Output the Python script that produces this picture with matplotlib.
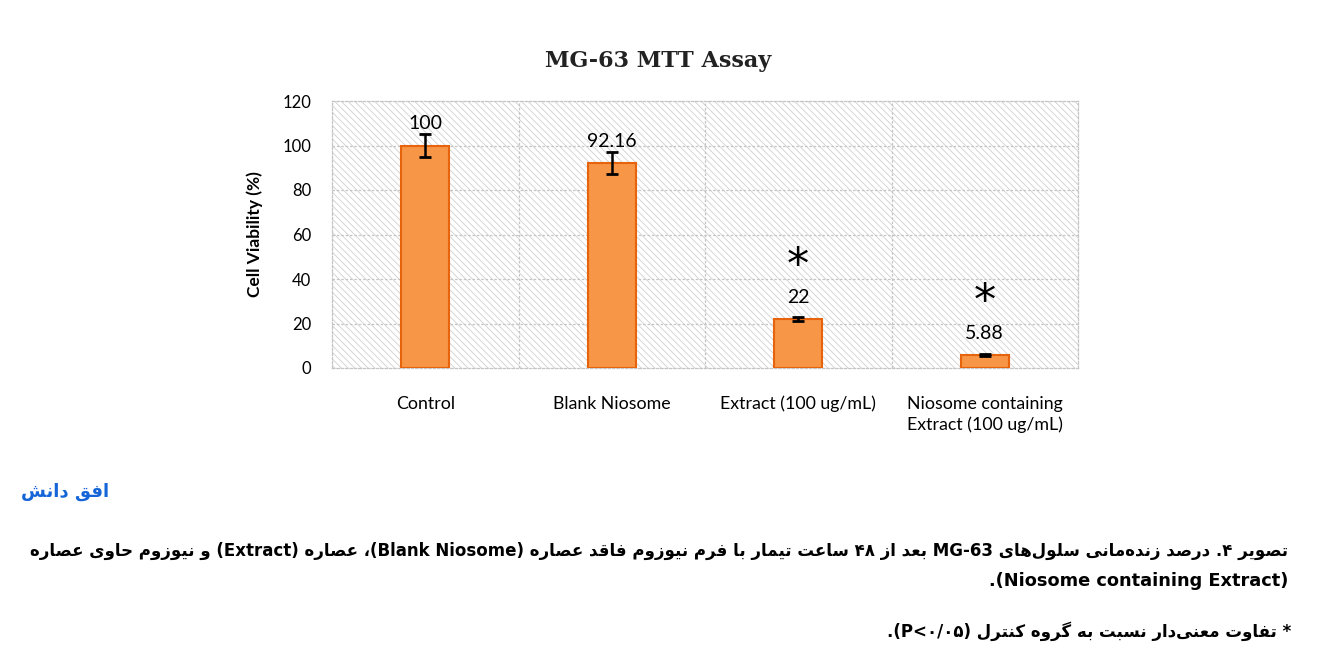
import matplotlib
matplotlib.use('Agg')
import matplotlib.pyplot as plt
from matplotlib.patches import Rectangle

# ---- data ----
groups = ['Control', 'Blank Niosome', 'Extract (100 ug/mL)',
          'Niosome containing\nExtract (100 ug/mL)']
viability = [100, 92.16, 22, 5.88]
errors = [5.2, 4.8, 1.0, 0.6]
value_labels = ['100', '92.16', '22', '5.88']
significant = [False, False, True, True]
yticks = [0, 20, 40, 60, 80, 100, 120]

title = 'MG-63 MTT Assay'
ylabel = 'Cell Viability (%)'
caption1 = ('تصویر ۴. درصد زنده\u200cمانی سلول\u200cهای MG-63 بعد از ۴۸ ساعت تیمار با فرم '
            'نیوزوم فاقد عصاره (Blank Niosome)، عصاره (Extract) و نیوزوم حاوی عصاره')
caption2 = '(Niosome containing Extract).'
caption3 = '* تفاوت معنی\u200cدار نسبت به گروه کنترل (P<۰/۰۵).'
logo = 'افق دانش'

# ---- minimal Persian shaping + bidi (matplotlib does neither) ----
# isolated, final, initial, medial
DUAL = {
    'ب': 'ﺏﺐﺑﺒ', 'پ': 'ﭖﭗﭘﭙ', 'ت': 'ﺕﺖﺗﺘ', 'ث': 'ﺙﺚﺛﺜ', 'ج': 'ﺝﺞﺟﺠ',
    'چ': 'ﭺﭻﭼﭽ', 'ح': 'ﺡﺢﺣﺤ', 'خ': 'ﺥﺦﺧﺨ', 'س': 'ﺱﺲﺳﺴ', 'ش': 'ﺵﺶﺷﺸ',
    'ص': 'ﺹﺺﺻﺼ', 'ض': 'ﺽﺾﺿﻀ', 'ط': 'ﻁﻂﻃﻄ', 'ظ': 'ﻅﻆﻇﻈ', 'ع': 'ﻉﻊﻋﻌ',
    'غ': 'ﻍﻎﻏﻐ', 'ف': 'ﻑﻒﻓﻔ', 'ق': 'ﻕﻖﻗﻘ', 'ک': 'ﮎﮏﮐﮑ', 'گ': 'ﮒﮓﮔﮕ',
    'ل': 'ﻝﻞﻟﻠ', 'م': 'ﻡﻢﻣﻤ', 'ن': 'ﻥﻦﻧﻨ', 'ه': 'ﻩﻪﻫﻬ', 'ی': 'ﯼﯽﯾﯿ',
}
RIGHT = {'ا': 'ﺍﺎ', 'آ': 'ﺁﺂ', 'د': 'ﺩﺪ', 'ذ': 'ﺫﺬ', 'ر': 'ﺭﺮ',
         'ز': 'ﺯﺰ', 'ژ': 'ﮊﮋ', 'و': 'ﻭﻮ'}


def shape(text):
    out = []
    for i, ch in enumerate(text):
        if ch not in DUAL and ch not in RIGHT:
            out.append(ch)
            continue
        prev = text[i - 1] if i > 0 else ''
        nxt = text[i + 1] if i + 1 < len(text) else ''
        jp = prev in DUAL
        jn = ch in DUAL and (nxt in DUAL or nxt in RIGHT)
        f = DUAL.get(ch) or RIGHT.get(ch)
        if jp and jn:
            out.append(f[3])
        elif jp:
            out.append(f[1])
        elif jn:
            out.append(f[2])
        else:
            out.append(f[0])
    return ''.join(out).replace('\u200c', '')


def ctype(ch):
    if (ch.isascii() and ch.isalnum()) or '\u06f0' <= ch <= '\u06f9':
        return 'L'
    if ord(ch) >= 0x0600:
        return 'R'
    return 'N'


def rtl(text):
    s = shape(text)
    t = [ctype(c) for c in s]
    res = []
    for i, c in enumerate(t):
        if c != 'N':
            res.append(c)
            continue
        p = next((t[j] for j in range(i - 1, -1, -1) if t[j] != 'N'), 'R')
        n = next((t[j] for j in range(i + 1, len(t)) if t[j] != 'N'), 'R')
        res.append('L' if p == 'L' and n == 'L' else 'R')
    runs = []
    for ch, c in zip(s, res):
        if runs and runs[-1][0] == c:
            runs[-1][1].append(ch)
        else:
            runs.append((c, [ch]))
    mirror = {'(': ')', ')': '('}
    out = []
    for c, chars in reversed(runs):
        if c == 'R':
            out.append(''.join(mirror.get(x, x) for x in reversed(chars)))
        else:
            out.append(''.join(chars))
    return ''.join(out)


# ---- figure ----
W, H = 1331, 663
fig = plt.figure(figsize=(W / 100, H / 100), dpi=100)
ax = fig.add_axes([332 / W, 1 - 368 / H, 746 / W, 267 / H])

plt.rcParams['hatch.linewidth'] = 0.6
ax.add_patch(Rectangle((0, 0), 1, 1, transform=ax.transAxes, facecolor='white',
                       edgecolor='#cfcfcf', hatch='\\\\\\\\\\', linewidth=0, zorder=0))

x = list(range(len(groups)))
ax.bar(x, viability, width=0.26, color='#F79646', edgecolor='#E8640C',
       linewidth=1.5, zorder=3)
ax.errorbar(x, viability, yerr=errors, fmt='none', ecolor='black',
            elinewidth=1.8, capsize=4.5, capthick=2, zorder=4)

for xi, v, lab, sig in zip(x, viability, value_labels, significant):
    ax.text(xi, v + 9.7, lab, ha='center', va='center', fontsize=14,
            family='Lato', zorder=5)
    if sig:
        ax.text(xi, v + 23.5, '*', ha='center', va='center', fontsize=32,
                family='DejaVu Sans', zorder=5)

ax.set_xlim(-0.5, 3.5)
ax.set_ylim(0, 120)
ax.set_yticks(yticks)
ax.set_xticks(x)
ax.set_xticklabels(groups, family='Lato', fontsize=12.8, linespacing=1.35)
ax.set_yticklabels([str(v) for v in yticks], family='Lato', fontsize=12)
ax.tick_params(length=0, pad=15)
ax.tick_params(axis='x', pad=20)

for yv in yticks[1:-1]:
    ax.axhline(yv, color='#c4c4c4', linestyle=(0, (2, 1.5)), linewidth=0.9, zorder=1)
for xv in [0.5, 1.5, 2.5]:
    ax.axvline(xv, color='#c4c4c4', linestyle=(0, (2, 1.5)), linewidth=0.9, zorder=1)
for sp in ax.spines.values():
    sp.set_color('#c4c4c4')
    sp.set_linestyle((0, (2, 1.5)))
    sp.set_linewidth(0.9)

ax.set_ylabel(ylabel, family='Lato', fontsize=12.5, fontweight='bold', labelpad=14)
fig.text(658 / W, 1 - 61 / H, title, ha='center', va='center', fontsize=16,
         family='DejaVu Serif', fontweight='bold', color='#222222')

# ---- Persian caption below the chart ----
cap_kw = dict(ha='right', va='center', fontsize=14.5, family='DejaVu Sans',
              fontweight='bold', color='black')
t1 = fig.text(1288 / W, 1 - 551 / H, rtl(caption1), **cap_kw)
t2 = fig.text(1288 / W, 1 - 581 / H, rtl(caption2), **cap_kw)
t3 = fig.text(1291 / W, 1 - 631 / H, rtl(caption3), **cap_kw)

# shrink the long first line so it spans the text block like the reference
r = fig.canvas.get_renderer()
w1 = t1.get_window_extent(r).width
size = 14.5 * 1258 / w1
t1.set_fontsize(size)
t2.set_fontsize(size * 1.07)
t3.set_fontsize(size)

fig.text(65 / W, 1 - 492 / H, rtl(logo), ha='center', va='center', fontsize=13,
         family='DejaVu Sans', fontweight='bold', color='#1565D8')

fig.savefig('out.png', dpi=100)
